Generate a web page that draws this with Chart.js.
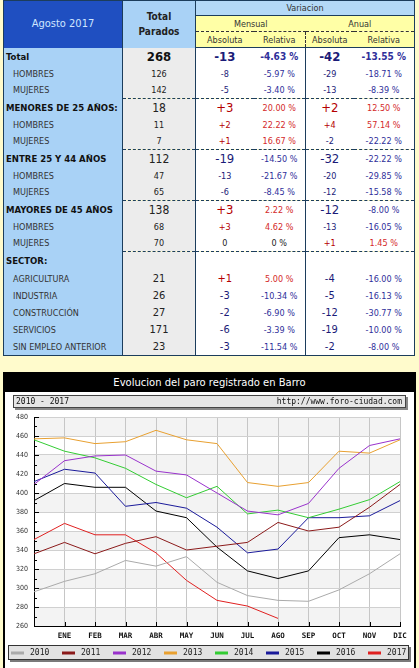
<!DOCTYPE html>
<html>
<head>
<meta charset="utf-8">
<script src="https://cdn.jsdelivr.net/npm/chart.js@4.4.0/dist/chart.umd.min.js"></script>
<style>
  body { margin: 0; background: #fffbcc; width: 419px; height: 668px; overflow: hidden; position: relative;
         font-family: "DejaVu Sans Condensed", "Liberation Sans Narrow", sans-serif; }
  #tabla { position: absolute; left: 3px; top: 0; width: 411px; border-collapse: collapse; table-layout: fixed;
           border: 1px solid #1c3d5c; }
  #tabla td { padding: 0; text-align: center; white-space: nowrap; overflow: hidden; color: #222; font-size: 9px; line-height: 12px; }
  #tabla tr.c1 td { height: 14px; }
  #tabla tr.c2 td, #tabla tr.c3 td { height: 15px; }
  #tabla .fecha { background: #1f4fc1; color: #cfe6ff; font-size: 11px; border-right: 1px solid #1c3d5c; }
  #tabla .totp { background: #a9d2f6; font-weight: bold; font-size: 10px; line-height: 15px; border-right: 1px solid #1c3d5c; }
  #tabla .var { background: #b4d9f7; color: #333; border-bottom: 1px solid #1c3d5c; }
  #tabla .amar { background: #ffffa6; color: #333; }
  #tabla .mens { border-bottom: 1px dashed #333; }
  #tabla .c3 td { border-bottom: 1px solid #1c3d5c; }
  #tabla .sepv { border-right: 1px dashed #333; }
  #tabla tr.total td { height: 18px; }
  #tabla tr.sub td { height: 16px; }
  #tabla tr.grupo td, #tabla tr.sectort td { height: 18px; }
  #tabla tr.sector td { height: 17px; }
  #tabla td.et { text-align: left; background: #a9d2f6; border-right: 1px solid #1c3d5c; }
  #tabla td.tp { background: #ececec; border-right: 1px solid #1c3d5c; }
  #tabla td.v { background: #fff; }
  #tabla td.c4 { border-right: 1px solid #1c3d5c; }
  #tabla tr.total td.et, #tabla tr.grupo td.et, #tabla tr.sectort td.et { font-weight: bold; font-size: 9.5px; padding-left: 2px; color: #111; }
  #tabla tr.sub td.et, #tabla tr.sector td.et { padding-left: 9px; color: #333; }
  #tabla tr.grupo td:not(.et), #tabla tr.sectort td:not(.et) { border-top: 1px dashed #1c3d5c; }
  #tabla tr.total td.tp { font-size: 13px; font-weight: bold; color: #111; }
  #tabla tr.total td.abs { font-size: 13px; font-weight: bold; }
  #tabla tr.total td.rel { font-size: 10px; font-weight: bold; }
  #tabla tr.grupo td.tp { font-size: 12px; }
  #tabla tr.grupo td.abs { font-size: 13px; }
  #tabla tr.sector td.tp, #tabla tr.sector td.abs { font-size: 11px; }
  #tabla td.neg { color: #1b1b78; }
  #tabla td.pos { color: #b40000; }
  #tabla td.rel.neg { color: #2f2f9a; }
  #tabla td.rel.pos { color: #d42a2a; }
  #panel { position: absolute; left: 3px; top: 372px; width: 409px; height: 400px; border: 2px solid #000; background: #fff; }
  #titulo { height: 18px; background: #000; color: #fff; text-align: center; line-height: 17px;
            font-family: "DejaVu Sans", sans-serif; font-size: 10px; }
  #subtitulo { position: absolute; left: 8px; top: 21px; width: 391px; height: 11px; border: 1px solid #444;
               background: #e6e6e6; box-shadow: 2px 2px 0 #888; font-family: "DejaVu Sans Mono", monospace;
               font-size: 8px; line-height: 11px; color: #111; z-index: 2; }
  #subtitulo span { position: absolute; top: 0; }
  #grafico { position: absolute; left: 0; top: 18px; }
</style>
</head>
<body>
<table id="tabla">
  <colgroup><col style="width:119px"><col style="width:73px"><col style="width:58px"><col style="width:52px"><col style="width:48px"><col style="width:61px"></colgroup>
  <tr class="c1"><td class="fecha" rowspan="3">Agosto 2017</td><td class="totp" rowspan="3">Total<br>Parados</td><td class="var" colspan="4">Variacion</td></tr>
  <tr class="c2"><td class="amar mens" colspan="2">Mensual</td><td class="amar mens" colspan="2">Anual</td></tr>
  <tr class="c3"><td class="amar">Absoluta</td><td class="amar sepv">Relativa</td><td class="amar">Absoluta</td><td class="amar">Relativa</td></tr>
  <tbody id="cuerpo"></tbody>
</table>

<div id="panel">
  <div id="titulo">Evolucion del paro registrado en Barro</div>
  <div id="subtitulo"><span style="left:2px">2010 - 2017</span><span style="right:3px">http://www.foro-ciudad.com</span></div>
  <canvas id="grafico" width="409" height="276"></canvas>
</div>

<script>
// Tabla resumen (agosto 2017)
const filasTabla = [
  ['Total', 'total', '268', '-13', '-4.63 %', '-42', '-13.55 %'],
  ['HOMBRES', 'sub', '126', '-8', '-5.97 %', '-29', '-18.71 %'],
  ['MUJERES', 'sub', '142', '-5', '-3.40 %', '-13', '-8.39 %'],
  ['MENORES DE 25 AÑOS:', 'grupo', '18', '+3', '20.00 %', '+2', '12.50 %'],
  ['HOMBRES', 'sub', '11', '+2', '22.22 %', '+4', '57.14 %'],
  ['MUJERES', 'sub', '7', '+1', '16.67 %', '-2', '-22.22 %'],
  ['ENTRE 25 Y 44 AÑOS', 'grupo', '112', '-19', '-14.50 %', '-32', '-22.22 %'],
  ['HOMBRES', 'sub', '47', '-13', '-21.67 %', '-20', '-29.85 %'],
  ['MUJERES', 'sub', '65', '-6', '-8.45 %', '-12', '-15.58 %'],
  ['MAYORES DE 45 AÑOS', 'grupo', '138', '+3', '2.22 %', '-12', '-8.00 %'],
  ['HOMBRES', 'sub', '68', '+3', '4.62 %', '-13', '-16.05 %'],
  ['MUJERES', 'sub', '70', '0', '0 %', '+1', '1.45 %'],
  ['SECTOR:', 'sectort', '', '', '', '', ''],
  ['AGRICULTURA', 'sector', '21', '+1', '5.00 %', '-4', '-16.00 %'],
  ['INDUSTRIA', 'sector', '26', '-3', '-10.34 %', '-5', '-16.13 %'],
  ['CONSTRUCCIÓN', 'sector', '27', '-2', '-6.90 %', '-12', '-30.77 %'],
  ['SERVICIOS', 'sector', '171', '-6', '-3.39 %', '-19', '-10.00 %'],
  ['SIN EMPLEO ANTERIOR', 'sector', '23', '-3', '-11.54 %', '-2', '-8.00 %']
];

// Datos del grafico: primer punto = diciembre del año anterior
const meses = ['', 'ENE', 'FEB', 'MAR', 'ABR', 'MAY', 'JUN', 'JUL', 'AGO', 'SEP', 'OCT', 'NOV', 'DIC'];
const anios = ['2010', '2011', '2012', '2013', '2014', '2015', '2016', '2017'];
const paro2010 = [296, 307, 315, 329, 323, 333, 306, 292, 287, 286, 298, 315, 336];
const paro2011 = [336, 348, 336, 347, 354, 340, 344, 348, 369, 360, 364, 385, 409];
const paro2012 = [409, 434, 439, 440, 423, 419, 400, 381, 377, 389, 426, 450, 457];
const paro2013 = [457, 458, 452, 454, 466, 456, 452, 411, 407, 411, 444, 442, 456];
const paro2014 = [456, 444, 437, 426, 409, 395, 407, 378, 382, 374, 383, 393, 412];
const paro2015 = [412, 425, 421, 386, 390, 384, 364, 337, 341, 374, 374, 376, 392];
const paro2016 = [392, 410, 406, 406, 381, 374, 343, 318, 310, 318, 353, 356, 351];
const paro2017 = [351, 368, 356, 356, 337, 308, 287, 281, 268, null, null, null, null];
const ticksY = [260, 280, 300, 320, 340, 360, 380, 400, 420, 440, 460, 480];

const coloresAnio = ['#aaaaaa', '#8b1a1a', '#9932cc', '#e8a030', '#33cc33', '#1a1a9a', '#000000', '#e02020'];

function claseNum(txt) {
  if (txt.startsWith('-')) return 'neg';
  if (txt.startsWith('+') || (parseFloat(txt) > 0)) return 'pos';
  return 'cero';
}

const cuerpo = document.getElementById('cuerpo');
filasTabla.forEach(function(f) {
  const tr = document.createElement('tr');
  tr.className = 'dato ' + f[1];
  let html = '<td class="et">' + f[0] + '</td><td class="tp">' + f[2] + '</td>';
  html += '<td class="v abs ' + claseNum(f[3]) + '">' + f[3] + '</td>';
  html += '<td class="v rel c4 ' + claseNum(f[4]) + '">' + f[4] + '</td>';
  html += '<td class="v abs ' + claseNum(f[5]) + '">' + f[5] + '</td>';
  html += '<td class="v rel ' + claseNum(f[6]) + '">' + f[6] + '</td>';
  tr.innerHTML = html;
  cuerpo.appendChild(tr);
});

const series = [paro2010, paro2011, paro2012, paro2013, paro2014, paro2015, paro2016, paro2017];

// bandas grises alternas del fondo
const pluginFondo = {
  id: 'fondo',
  beforeDraw(chart) {
    const ctx = chart.ctx, area = chart.chartArea, y = chart.scales.y;
    ctx.save();
    ctx.fillStyle = '#f3f3f3';
    for (let v = 260; v < 480; v += 40) {
      const y1 = y.getPixelForValue(v + 20), y2 = y.getPixelForValue(v);
      ctx.fillRect(area.left, y1, area.right - area.left, y2 - y1);
    }
    ctx.restore();
  }
};

// marcas interiores de los ejes y leyenda en caja
const pluginMarcas = {
  id: 'marcas',
  afterDraw(chart) {
    const ctx = chart.ctx, area = chart.chartArea, x = chart.scales.x, y = chart.scales.y;
    ctx.save();
    ctx.strokeStyle = '#000';
    ctx.lineWidth = 1;
    ctx.beginPath();
    for (let i = 1; i < meses.length; i++) {
      const px = Math.round(x.getPixelForValue(i)) + 0.5;
      ctx.moveTo(px, area.bottom);
      ctx.lineTo(px, area.bottom - 4);
    }
    for (let v = 260; v <= 480; v += 10) {
      const py = Math.round(y.getPixelForValue(v)) + 0.5;
      ctx.moveTo(area.left, py);
      ctx.lineTo(area.left + (v % 20 === 0 ? 5 : 3), py);
    }
    ctx.stroke();

    // leyenda
    const top = 253, alto = 15, izq = 3, ancho = 401;
    ctx.fillStyle = '#7a7a7a';
    ctx.fillRect(izq + 2, top + 2, ancho, alto);
    ctx.fillStyle = '#e2e2e2';
    ctx.fillRect(izq, top, ancho, alto);
    ctx.strokeStyle = '#333';
    ctx.strokeRect(izq + 0.5, top + 0.5, ancho - 1, alto - 1);
    ctx.font = '8px "DejaVu Sans Mono", monospace';
    ctx.textBaseline = 'middle';
    chart.data.datasets.forEach(function(ds, i) {
      const x0 = 6 + i * 51, yc = top + alto / 2 + 0.5;
      ctx.strokeStyle = ds.borderColor;
      ctx.lineWidth = 3;
      ctx.beginPath();
      ctx.moveTo(x0, yc);
      ctx.lineTo(x0 + 13, yc);
      ctx.stroke();
      ctx.fillStyle = '#222';
      ctx.fillText(ds.label, x0 + 19, yc);
    });
    ctx.restore();
  }
};

new Chart(document.getElementById('grafico'), {
  type: 'line',
  data: {
    labels: meses,
    datasets: series.map(function(s, i) {
      return {
        label: anios[i],
        data: s,
        borderColor: coloresAnio[i],
        backgroundColor: coloresAnio[i],
        borderWidth: 1,
        pointRadius: 0,
        tension: 0,
        fill: false
      };
    })
  },
  options: {
    responsive: false,
    animation: false,
    layout: { padding: { left: 0, right: 14, top: 25, bottom: 0 } },
    plugins: { legend: { display: false }, tooltip: { enabled: false } },
    scales: {
      x: {
        offset: false,
        grid: { color: '#c6c6c6', drawTicks: false },
        border: { color: '#000' },
        ticks: { autoSkip: false, maxRotation: 0, padding: 6, color: '#111',
                 font: { family: '"DejaVu Sans Mono", monospace', size: 7.5, weight: 'bold' } },
        afterFit(scale) { scale.height = 42; }
      },
      y: {
        min: 260, max: 480,
        afterBuildTicks(scale) { scale.ticks = ticksY.map(function(v) { return { value: v }; }); },
        grid: { color: '#d0d0d0', drawTicks: false },
        border: { color: '#000' },
        ticks: { padding: 6, color: '#333', font: { family: '"DejaVu Sans Condensed", "DejaVu Sans", sans-serif', size: 7 } },
        afterFit(scale) { scale.width = 29; }
      }
    }
  },
  plugins: [pluginFondo, pluginMarcas]
});
</script>
</body>
</html>
